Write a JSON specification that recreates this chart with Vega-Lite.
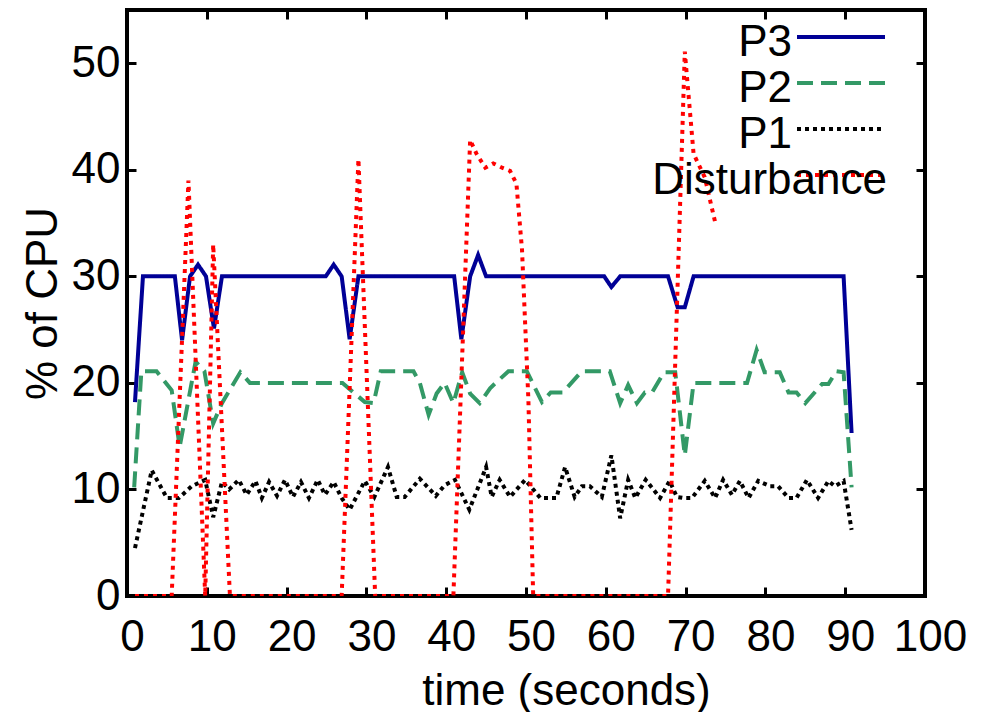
{
  "$schema": "https://vega.github.io/schema/vega-lite/v6.json",
  "width": 798,
  "height": 586,
  "autosize": "none",
  "padding": {"left": 127, "top": 10, "right": 67, "bottom": 116},
  "background": "white",
  "config": {
    "font": "Liberation Sans",
    "view": {"stroke": "black", "strokeWidth": 4},
    "axis": {
      "domain": false,
      "grid": false,
      "tickColor": "black",
      "tickWidth": 3,
      "tickSize": -9,
      "labelColor": "black",
      "labelFontSize": 44,
      "labelFont": "Liberation Sans",
      "titleFont": "Liberation Sans",
      "titleFontSize": 44,
      "titleFontWeight": "normal",
      "titleColor": "black",
      "labelFlush": false,
      "labelOverlap": false
    },
    "legend": {
      "orient": "none",
      "legendX": 670,
      "legendY": 9.4,
      "title": null,
      "symbolType": "stroke",
      "symbolSize": 7744,
      "symbolStrokeWidth": 4,
      "symbolOffset": -2,
      "labelFontSize": 44,
      "labelFont": "Liberation Sans",
      "labelColor": "black",
      "labelAlign": "right",
      "labelOffset": -95,
      "labelLimit": 500,
      "clipHeight": 35.3,
      "rowPadding": 0,
      "padding": 0
    }
  },
  "data": {
    "values": [
      {"series": "P3", "t": 1, "v": 18.2},
      {"series": "P3", "t": 2, "v": 30},
      {"series": "P3", "t": 6, "v": 30},
      {"series": "P3", "t": 6.9, "v": 24},
      {"series": "P3", "t": 7.9, "v": 30},
      {"series": "P3", "t": 8.9, "v": 31.1},
      {"series": "P3", "t": 9.9, "v": 30},
      {"series": "P3", "t": 10.9, "v": 25.1},
      {"series": "P3", "t": 11.9, "v": 30},
      {"series": "P3", "t": 24.9, "v": 30},
      {"series": "P3", "t": 25.9, "v": 31.1},
      {"series": "P3", "t": 26.9, "v": 30},
      {"series": "P3", "t": 27.9, "v": 24.1},
      {"series": "P3", "t": 29, "v": 30},
      {"series": "P3", "t": 41, "v": 30},
      {"series": "P3", "t": 41.9, "v": 24.1},
      {"series": "P3", "t": 43, "v": 30},
      {"series": "P3", "t": 44, "v": 32},
      {"series": "P3", "t": 45, "v": 30},
      {"series": "P3", "t": 59.8, "v": 30},
      {"series": "P3", "t": 60.7, "v": 29},
      {"series": "P3", "t": 61.8, "v": 30},
      {"series": "P3", "t": 67.8, "v": 30},
      {"series": "P3", "t": 69, "v": 27.1},
      {"series": "P3", "t": 69.9, "v": 27.1},
      {"series": "P3", "t": 71, "v": 30},
      {"series": "P3", "t": 89.8, "v": 30},
      {"series": "P3", "t": 90.8, "v": 15.3},

      {"series": "P2", "t": 0.9, "v": 10.2},
      {"series": "P2", "t": 1.8, "v": 21.1},
      {"series": "P2", "t": 3.7, "v": 21.1},
      {"series": "P2", "t": 5.6, "v": 19.3},
      {"series": "P2", "t": 6.6, "v": 14},
      {"series": "P2", "t": 8.6, "v": 22},
      {"series": "P2", "t": 9.7, "v": 21.1},
      {"series": "P2", "t": 10.8, "v": 16.2},
      {"series": "P2", "t": 11.9, "v": 18.1},
      {"series": "P2", "t": 14.2, "v": 21},
      {"series": "P2", "t": 15.4, "v": 20},
      {"series": "P2", "t": 27, "v": 20},
      {"series": "P2", "t": 29.8, "v": 18.2},
      {"series": "P2", "t": 30.9, "v": 18.1},
      {"series": "P2", "t": 31.8, "v": 21.1},
      {"series": "P2", "t": 35.9, "v": 21.1},
      {"series": "P2", "t": 36.7, "v": 20},
      {"series": "P2", "t": 37.8, "v": 17},
      {"series": "P2", "t": 38.8, "v": 19},
      {"series": "P2", "t": 39.8, "v": 20},
      {"series": "P2", "t": 40.9, "v": 18.1},
      {"series": "P2", "t": 42, "v": 21},
      {"series": "P2", "t": 43, "v": 19},
      {"series": "P2", "t": 44.2, "v": 18.1},
      {"series": "P2", "t": 45.5, "v": 19.5},
      {"series": "P2", "t": 46.2, "v": 20},
      {"series": "P2", "t": 47.8, "v": 21.1},
      {"series": "P2", "t": 50.1, "v": 21.1},
      {"series": "P2", "t": 52, "v": 18.2},
      {"series": "P2", "t": 53.1, "v": 19.1},
      {"series": "P2", "t": 54.6, "v": 19.1},
      {"series": "P2", "t": 57, "v": 21.1},
      {"series": "P2", "t": 60.5, "v": 21.1},
      {"series": "P2", "t": 61.8, "v": 18.1},
      {"series": "P2", "t": 62.8, "v": 19.8},
      {"series": "P2", "t": 63.9, "v": 18.1},
      {"series": "P2", "t": 64.9, "v": 19.1},
      {"series": "P2", "t": 65.8, "v": 19.1},
      {"series": "P2", "t": 67.3, "v": 21},
      {"series": "P2", "t": 68.7, "v": 21},
      {"series": "P2", "t": 69.9, "v": 13.2},
      {"series": "P2", "t": 71, "v": 20},
      {"series": "P2", "t": 77.7, "v": 20},
      {"series": "P2", "t": 78.9, "v": 23.1},
      {"series": "P2", "t": 79.9, "v": 21},
      {"series": "P2", "t": 81.8, "v": 21},
      {"series": "P2", "t": 82.9, "v": 19.1},
      {"series": "P2", "t": 83.9, "v": 19.1},
      {"series": "P2", "t": 85, "v": 18.1},
      {"series": "P2", "t": 87.1, "v": 19.9},
      {"series": "P2", "t": 87.9, "v": 19.9},
      {"series": "P2", "t": 88.9, "v": 21.1},
      {"series": "P2", "t": 89.8, "v": 21},
      {"series": "P2", "t": 90.8, "v": 10.2},

      {"series": "P1", "t": 1, "v": 4.5},
      {"series": "P1", "t": 3.1, "v": 11.8},
      {"series": "P1", "t": 5, "v": 9.2},
      {"series": "P1", "t": 6.5, "v": 9.2},
      {"series": "P1", "t": 8.1, "v": 10.3},
      {"series": "P1", "t": 9.8, "v": 10.9},
      {"series": "P1", "t": 10.8, "v": 7.4},
      {"series": "P1", "t": 11.9, "v": 10.7},
      {"series": "P1", "t": 12.8, "v": 10},
      {"series": "P1", "t": 14, "v": 10.9},
      {"series": "P1", "t": 15, "v": 9.5},
      {"series": "P1", "t": 16.1, "v": 10.8},
      {"series": "P1", "t": 16.9, "v": 9.2},
      {"series": "P1", "t": 17.8, "v": 10.7},
      {"series": "P1", "t": 18.8, "v": 9.4},
      {"series": "P1", "t": 19.8, "v": 10.9},
      {"series": "P1", "t": 20.8, "v": 9.3},
      {"series": "P1", "t": 21.8, "v": 10.7},
      {"series": "P1", "t": 22.8, "v": 9.2},
      {"series": "P1", "t": 23.9, "v": 10.9},
      {"series": "P1", "t": 24.8, "v": 9.5},
      {"series": "P1", "t": 25.9, "v": 10.7},
      {"series": "P1", "t": 26.9, "v": 9.2},
      {"series": "P1", "t": 27.9, "v": 8.1},
      {"series": "P1", "t": 29.8, "v": 10.8},
      {"series": "P1", "t": 31, "v": 9.3},
      {"series": "P1", "t": 32.7, "v": 12.1},
      {"series": "P1", "t": 33.8, "v": 9.3},
      {"series": "P1", "t": 34.8, "v": 9.3},
      {"series": "P1", "t": 36.7, "v": 11},
      {"series": "P1", "t": 38.7, "v": 9.4},
      {"series": "P1", "t": 39.8, "v": 10.4},
      {"series": "P1", "t": 41.1, "v": 10.9},
      {"series": "P1", "t": 42.9, "v": 8.1},
      {"series": "P1", "t": 45, "v": 12.1},
      {"series": "P1", "t": 45.7, "v": 9.3},
      {"series": "P1", "t": 46.7, "v": 10.9},
      {"series": "P1", "t": 48, "v": 9.3},
      {"series": "P1", "t": 49.9, "v": 10.9},
      {"series": "P1", "t": 51.8, "v": 9.2},
      {"series": "P1", "t": 53.8, "v": 9.2},
      {"series": "P1", "t": 54.9, "v": 12.1},
      {"series": "P1", "t": 56.1, "v": 9.3},
      {"series": "P1", "t": 57, "v": 10.3},
      {"series": "P1", "t": 58, "v": 10.3},
      {"series": "P1", "t": 59.5, "v": 9.3},
      {"series": "P1", "t": 60.7, "v": 13.2},
      {"series": "P1", "t": 61.8, "v": 7.3},
      {"series": "P1", "t": 62.8, "v": 10.9},
      {"series": "P1", "t": 63.7, "v": 9.2},
      {"series": "P1", "t": 65, "v": 10.9},
      {"series": "P1", "t": 66.8, "v": 9.2},
      {"series": "P1", "t": 68, "v": 10.8},
      {"series": "P1", "t": 68.9, "v": 9.3},
      {"series": "P1", "t": 69.7, "v": 9.2},
      {"series": "P1", "t": 70.8, "v": 9.2},
      {"series": "P1", "t": 72.4, "v": 10.8},
      {"series": "P1", "t": 73.7, "v": 9.2},
      {"series": "P1", "t": 74.7, "v": 10.9},
      {"series": "P1", "t": 75.8, "v": 9.5},
      {"series": "P1", "t": 76.8, "v": 10.8},
      {"series": "P1", "t": 77.9, "v": 9.2},
      {"series": "P1", "t": 79.1, "v": 10.8},
      {"series": "P1", "t": 80.6, "v": 10.3},
      {"series": "P1", "t": 81.6, "v": 10.3},
      {"series": "P1", "t": 82.9, "v": 9.2},
      {"series": "P1", "t": 83.9, "v": 9.2},
      {"series": "P1", "t": 85.2, "v": 10.9},
      {"series": "P1", "t": 86.6, "v": 9.2},
      {"series": "P1", "t": 87.9, "v": 10.8},
      {"series": "P1", "t": 88.7, "v": 10.3},
      {"series": "P1", "t": 89.8, "v": 10.8},
      {"series": "P1", "t": 90.8, "v": 6.2},

      {"series": "Disturbance", "t": 1, "v": 0},
      {"series": "Disturbance", "t": 5.6, "v": 0},
      {"series": "Disturbance", "t": 7.7, "v": 39},
      {"series": "Disturbance", "t": 9.8, "v": 0},
      {"series": "Disturbance", "t": 10.8, "v": 33},
      {"series": "Disturbance", "t": 12.9, "v": 0},
      {"series": "Disturbance", "t": 26.9, "v": 0},
      {"series": "Disturbance", "t": 29, "v": 41},
      {"series": "Disturbance", "t": 31.1, "v": 0},
      {"series": "Disturbance", "t": 40.9, "v": 0},
      {"series": "Disturbance", "t": 43, "v": 42.8},
      {"series": "Disturbance", "t": 43.8, "v": 41.5},
      {"series": "Disturbance", "t": 44.9, "v": 40.2},
      {"series": "Disturbance", "t": 45.9, "v": 40.6},
      {"series": "Disturbance", "t": 47, "v": 40.2},
      {"series": "Disturbance", "t": 48, "v": 39.9},
      {"series": "Disturbance", "t": 48.8, "v": 38.7},
      {"series": "Disturbance", "t": 49.5, "v": 32.5},
      {"series": "Disturbance", "t": 50.3, "v": 18.4},
      {"series": "Disturbance", "t": 50.9, "v": 0},
      {"series": "Disturbance", "t": 67.8, "v": 0},
      {"series": "Disturbance", "t": 69.9, "v": 51.1},
      {"series": "Disturbance", "t": 71, "v": 41.5},
      {"series": "Disturbance", "t": 72.4, "v": 39.3},
      {"series": "Disturbance", "t": 73.7, "v": 35.1}
    ]
  },
  "layer": [
    {
      "mark": {"type": "line", "strokeWidth": 4, "strokeCap": "butt", "strokeJoin": "miter", "clip": true},
      "encoding": {
        "x": {
          "field": "t", "type": "quantitative",
          "scale": {"domain": [0, 100], "nice": false, "zero": false},
          "axis": {"values": [0, 10, 20, 30, 40, 50, 60, 70, 80, 90, 100], "title": "time (seconds)", "labelPadding": 28, "labelOffset": 5, "titlePadding": 10, "titleX": 439}
        },
        "y": {
          "field": "v", "type": "quantitative",
          "scale": {"domain": [0, 55], "nice": false},
          "axis": {"values": [0, 10, 20, 30, 40, 50], "title": "% of CPU", "labelPadding": 16, "titlePadding": 6}
        },
        "color": {
          "field": "series", "type": "nominal",
          "scale": {"domain": ["P3", "P2", "P1", "Disturbance"], "range": ["#000096", "#339966", "#000000", "#ff0000"]},
          "legend": {
            "encode": {
              "labels": {
                "update": {
                  "dy": {"value": 6},
                  "dx": {"signal": "datum.label === 'Disturbance' ? 95 : 0"}
                }
              }
            }
          }
        },
        "strokeDash": {
          "field": "series", "type": "nominal",
          "scale": {"domain": ["P3", "P2", "P1", "Disturbance"], "range": [[1, 0], [16, 8], [4, 4], [4, 5]]}
        }
      }
    },
    {
      "mark": {"type": "line", "opacity": 0},
      "encoding": {
        "x": {
          "field": "t", "type": "quantitative",
          "scale": {"domain": [0, 100], "nice": false, "zero": false},
          "axis": {"orient": "top", "values": [0, 10, 20, 30, 40, 50, 60, 70, 80, 90, 100], "labels": false, "title": null}
        },
        "y": {
          "field": "v", "type": "quantitative",
          "scale": {"domain": [0, 55], "nice": false},
          "axis": {"orient": "right", "values": [0, 10, 20, 30, 40, 50], "labels": false, "title": null}
        },
        "detail": {"field": "series"}
      }
    }
  ],
  "resolve": {"axis": {"x": "independent", "y": "independent"}}
}
